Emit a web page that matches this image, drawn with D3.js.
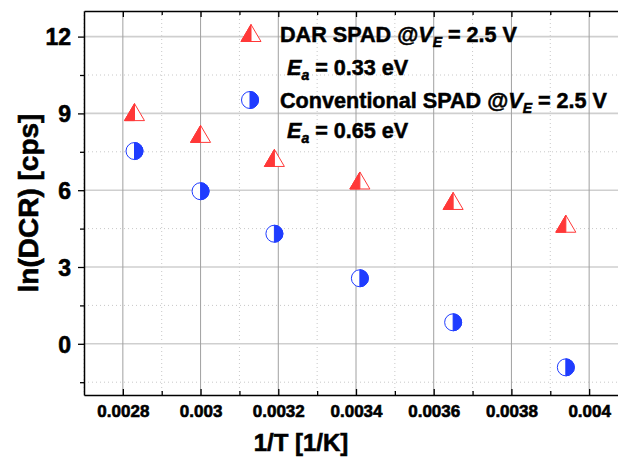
<!DOCTYPE html>
<html>
<head>
<meta charset="utf-8">
<script src="https://cdn.jsdelivr.net/npm/d3@7"></script>
<style>
  body { margin: 0; background: #fff; }
  svg { display: block; font-family: "Liberation Sans", Arial, sans-serif; }
</style>
</head>
<body>
<svg width="618" height="460"></svg>
<script>
// values
var invT = [0.00283, 0.0030, 0.00319, 0.00341, 0.00365, 0.00394];
var darDCR = [9.05, 8.2, 7.26, 6.38, 5.58, 4.69];
var convDCR = [7.53, 5.96, 4.30, 2.56, 0.84, -0.92];
var xTicks = [0.0028, 0.003, 0.0032, 0.0034, 0.0036, 0.0038, 0.004];
var xMinor = [0.0027, 0.0029, 0.0031, 0.0033, 0.0035, 0.0037, 0.0039];
var yTicks = [0, 3, 6, 9, 12];
var yMinor = [-1.5, 1.5, 4.5, 7.5, 10.5];

(function() {
  var red = "#ff3838", blue = "#1f3cff";
  var svg = d3.select("svg");
  var pLeft = 84, pRight = 628, pTop = 11, pBottom = 395;

  var x = d3.scaleLinear().domain([0.0027, 0.0041]).range([pLeft, pRight]);
  var y = d3.scaleLinear().domain([-2, 13]).range([pBottom, pTop]);

  // heavy bold look of the original text
  function heavy(sel, w) {
    sel.attr("font-weight", "bold").attr("fill", "#000")
      .attr("stroke", "#000").attr("stroke-width", w).attr("paint-order", "stroke");
  }

  var grid = svg.append("g");
  // minor dotted grid
  grid.selectAll("line.xm").data(xMinor).enter().append("line")
    .attr("x1", d => x(d)).attr("x2", d => x(d)).attr("y1", pTop).attr("y2", pBottom)
    .attr("stroke", "#c8c8c8").attr("stroke-dasharray", "1,3");
  grid.selectAll("line.ym").data(yMinor).enter().append("line")
    .attr("x1", pLeft).attr("x2", pRight).attr("y1", d => y(d)).attr("y2", d => y(d))
    .attr("stroke", "#c8c8c8").attr("stroke-dasharray", "1,3");
  // major grid
  grid.selectAll("line.yM").data(yTicks).enter().append("line")
    .attr("x1", pLeft).attr("x2", pRight).attr("y1", d => y(d)).attr("y2", d => y(d))
    .attr("stroke", "#cfcfcf").attr("stroke-width", 1.6);
  grid.selectAll("line.xM").data(xTicks).enter().append("line")
    .attr("x1", d => x(d)).attr("x2", d => x(d)).attr("y1", pTop).attr("y2", pBottom)
    .attr("stroke", "#a0a0a0").attr("stroke-width", 1);

  // axes
  function styleAxis(g) {
    g.select(".domain").attr("stroke", "#000").attr("stroke-width", 1.5);
    g.selectAll(".tick line").attr("stroke", "#000").attr("stroke-width", 1.3);
    g.selectAll("text").attr("font-family", "Liberation Sans, Arial, sans-serif").call(heavy, 0.6);
  }
  function minorTicks(g) {
    g.select(".domain").remove();
    g.selectAll("line").attr("stroke", "#000").attr("stroke-width", 1.3);
  }

  var xAxis = svg.append("g").attr("transform", "translate(0," + pBottom + ")")
    .call(d3.axisBottom(x).tickValues(xTicks).tickSize(-6).tickSizeOuter(0).tickPadding(10)
      .tickFormat(d3.format("~g")));
  styleAxis(xAxis);
  xAxis.selectAll("text").attr("font-size", 17);
  svg.append("g").attr("transform", "translate(0," + pBottom + ")")
    .call(d3.axisBottom(x).tickValues(xMinor.slice(1)).tickSize(-4).tickFormat(""))
    .call(minorTicks);

  var xTop = svg.append("g").attr("transform", "translate(0," + pTop + ")")
    .call(d3.axisTop(x).tickValues(xTicks).tickSize(-6).tickSizeOuter(0).tickFormat(""));
  styleAxis(xTop);
  svg.append("g").attr("transform", "translate(0," + pTop + ")")
    .call(d3.axisTop(x).tickValues(xMinor.slice(1)).tickSize(-4).tickFormat(""))
    .call(minorTicks);

  var yAxis = svg.append("g").attr("transform", "translate(" + pLeft + ",0)")
    .call(d3.axisLeft(y).tickValues(yTicks).tickSize(6).tickSizeOuter(0).tickPadding(7));
  styleAxis(yAxis);
  yAxis.selectAll("text").attr("font-size", 23).attr("dy", "0.36em");
  svg.append("g").attr("transform", "translate(" + pLeft + ",0)")
    .call(d3.axisLeft(y).tickValues(yMinor).tickSize(4).tickFormat(""))
    .call(minorTicks);

  // axis titles
  svg.append("text").attr("x", 301).attr("y", 451).attr("text-anchor", "middle")
    .attr("font-size", 24).call(heavy, 0.6).text("1/T [1/K]");
  svg.append("text").attr("transform", "translate(38,203) rotate(-90)").attr("text-anchor", "middle")
    .attr("font-size", 28).call(heavy, 0.6).text("ln(DCR) [cps]");

  // markers
  function triangle(g, cx, cy) {
    var w = 10, h = 8.5;
    g.append("path").attr("d", "M" + cx + "," + (cy - h) + "L" + (cx + w) + "," + (cy + h) + "L" + (cx - w) + "," + (cy + h) + "Z")
      .attr("fill", "#fff").attr("stroke", red).attr("stroke-width", 1);
    g.append("path").attr("d", "M" + cx + "," + (cy - h) + "L" + cx + "," + (cy + h) + "L" + (cx - w) + "," + (cy + h) + "Z")
      .attr("fill", red).attr("stroke", red).attr("stroke-width", 1);
  }
  function halfCircle(g, cx, cy) {
    var r = 8.5;
    g.append("circle").attr("cx", cx).attr("cy", cy).attr("r", r)
      .attr("fill", "#fff").attr("stroke", blue).attr("stroke-width", 1);
    g.append("path").attr("d", "M" + cx + "," + (cy - r) + "A" + r + "," + r + " 0 0 1 " + cx + "," + (cy + r) + "Z")
      .attr("fill", blue).attr("stroke", blue).attr("stroke-width", 1);
  }

  var marks = svg.append("g");
  invT.forEach(function(t, i) { triangle(marks, x(t), y(darDCR[i])); });
  invT.forEach(function(t, i) { halfCircle(marks, x(t), y(convDCR[i])); });

  // legend
  var leg = svg.append("g");
  triangle(leg, 251, 33);
  halfCircle(leg, 250, 100);

  function vLine(yy, name) {
    var t = leg.append("text").attr("x", 280).attr("y", yy).attr("font-size", 21.6).call(heavy, 0.5);
    t.append("tspan").text(name + " @");
    t.append("tspan").attr("font-style", "italic").text("V");
    t.append("tspan").attr("font-style", "italic").attr("font-size", 14).attr("dy", 5).text("E");
    t.append("tspan").attr("dy", -5).text(" = 2.5 V");
  }
  function eLine(yy, val) {
    var t = leg.append("text").attr("x", 287).attr("y", yy).attr("font-size", 21.6).call(heavy, 0.5);
    t.append("tspan").attr("font-style", "italic").text("E");
    t.append("tspan").attr("font-style", "italic").attr("font-size", 14).attr("dy", 5).text("a");
    t.append("tspan").attr("dy", -5).text(" = " + val + " eV");
  }
  vLine(42, "DAR SPAD");
  eLine(75, "0.33");
  vLine(108, "Conventional SPAD");
  eLine(138, "0.65");
})();
</script>
</body>
</html>
